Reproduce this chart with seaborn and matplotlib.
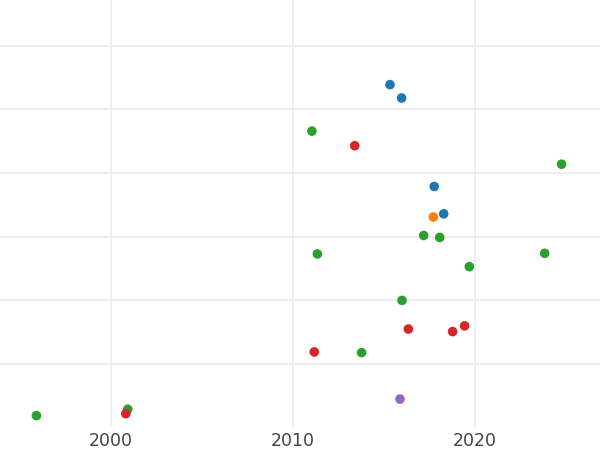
import matplotlib
matplotlib.use("Agg")
import matplotlib.pyplot as plt
import seaborn as sns
import pandas as pd

# 데이터 (그림에서 읽은 값, y축 눈금 라벨 없음)
years = [
    2015.33, 2015.97, 2017.76, 2018.28,
    2017.71,
    2011.04, 2024.76, 2017.18, 2018.06, 2011.34, 2023.83, 2019.69, 2015.99, 2013.77, 1995.90, 2000.92,
    2013.39, 2016.34, 2018.77, 2019.43, 2011.17, 2000.81,
    2015.88,
]
values = [
    5.39, 5.18, 3.79, 3.36,
    3.31,
    4.66, 4.14, 3.02, 2.99, 2.73, 2.74, 2.53, 2.00, 1.18, 0.19, 0.29,
    4.43, 1.55, 1.51, 1.60, 1.19, 0.22,
    0.45,
]
groups = (["A"] * 4 + ["B"] * 1 + ["C"] * 11 + ["D"] * 6 + ["E"] * 1)
group_order = ["A", "B", "C", "D", "E"]
palette = ["#1f77b4", "#ff7f0e", "#2ca02c", "#d62728", "#9467bd"]

df = pd.DataFrame({"year": years, "value": values, "group": groups})

sns.set_theme(style="whitegrid")
fig = plt.figure(figsize=(6, 4.5), dpi=100)
ax = fig.add_axes([0, 0.051, 1, 0.949])

sns.scatterplot(data=df, x="year", y="value", hue="group", hue_order=group_order,
                palette=palette, s=48, linewidth=0, legend=False, ax=ax)

ax.set_xlim(1993.9, 2026.87)
ax.set_ylim(0.01, 6.72)
ax.set_xticks([2000, 2010, 2020])
ax.set_yticks([1, 2, 3, 4, 5, 6])
ax.set_yticklabels([])
ax.set_xlabel("")
ax.set_ylabel("")
ax.grid(True, color="#ebebeb", linewidth=1.2)
ax.tick_params(axis="x", length=0, pad=3.5, labelsize=12.5, labelcolor="#444444")
ax.tick_params(axis="y", length=0)
for sp in ax.spines.values():
    sp.set_visible(False)

fig.savefig("out.png", dpi=100)
